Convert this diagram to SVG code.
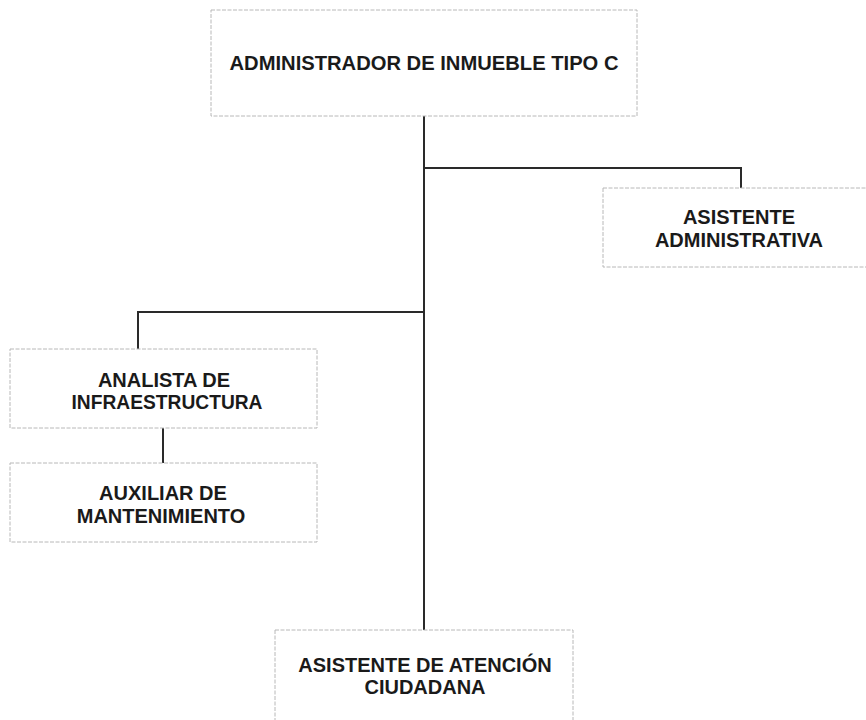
<svg xmlns="http://www.w3.org/2000/svg" width="866" height="720" viewBox="0 0 866 720">
  <style>
    .box { fill: #ffffff; stroke: #b8b8b8; stroke-width: 1; stroke-dasharray: 4 1.5; }
    .lbl { font-family: "Liberation Sans", Arial, sans-serif; font-weight: bold; font-size: 20px; fill: #1a1a1a; text-anchor: middle; }
    .conn { fill: none; stroke: #2a2a2a; stroke-width: 2; }
  </style>
  <rect width="866" height="720" fill="#ffffff"/>
  <g id="connectors">
    <path class="conn" d="M424 116 V630"/>
    <path class="conn" d="M424 168 H741 V188"/>
    <path class="conn" d="M424 312 H138 V349"/>
    <path class="conn" d="M163 428 V463"/>
  </g>
  <g id="admin">
    <rect class="box" x="211" y="10" width="426" height="106"/>
    <text class="lbl" x="424" y="70" textLength="389" lengthAdjust="spacingAndGlyphs">ADMINISTRADOR DE INMUEBLE TIPO C</text>
  </g>
  <g id="asistente-admin">
    <rect class="box" x="603" y="188" width="275" height="79"/>
    <text class="lbl" x="739" y="224">ASISTENTE</text>
    <text class="lbl" x="739" y="247">ADMINISTRATIVA</text>
  </g>
  <g id="analista">
    <rect class="box" x="10" y="349" width="307" height="79"/>
    <text class="lbl" x="164" y="387">ANALISTA DE</text>
    <text class="lbl" x="167" y="409" textLength="191" lengthAdjust="spacingAndGlyphs">INFRAESTRUCTURA</text>
  </g>
  <g id="auxiliar">
    <rect class="box" x="10" y="463" width="307" height="79"/>
    <text class="lbl" x="163" y="500">AUXILIAR DE</text>
    <text class="lbl" x="161" y="523">MANTENIMIENTO</text>
  </g>
  <g id="atencion">
    <rect class="box" x="275" y="630" width="298" height="100"/>
    <text class="lbl" x="425" y="672">ASISTENTE DE ATENCIÓN</text>
    <text class="lbl" x="425" y="694">CIUDADANA</text>
  </g>
</svg>
